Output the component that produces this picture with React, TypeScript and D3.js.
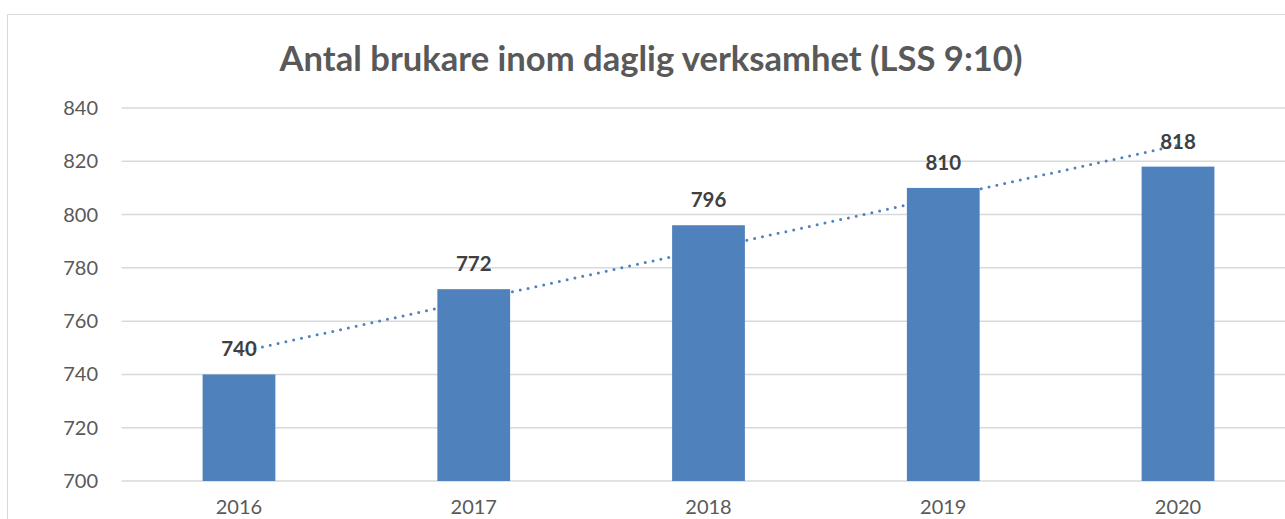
import React, { useRef, useEffect } from 'react';
import * as d3 from 'd3';

const YEARS: string[] = ['2016', '2017', '2018', '2019', '2020'];
const USERS: number[] = [740, 772, 796, 810, 818];
const Y_TICKS: number[] = [700, 720, 740, 760, 780, 800, 820, 840];

const TITLE = 'Antal brukare inom daglig verksamhet (LSS 9:10)';
const FONT = 'Lato, "Open Sans", sans-serif';
const BAR = '#4f81bd';
const TEXT = '#595959';

const App: React.FC = () => {
  const svgRef = useRef<SVGSVGElement>(null);

  useEffect(() => {
    if (!svgRef.current) return;
    const W = 1285;
    const H = 519;
    const left = 121.6;
    const right = 1295.4;
    const top = 108;
    const bottom = 481;

    const svg = d3.select(svgRef.current);
    svg.selectAll('*').remove();

    svg.append('rect').attr('width', W).attr('height', H).attr('fill', '#fff');
    // chart area border
    svg.append('rect')
      .attr('x', 7.5).attr('y', 14.5)
      .attr('width', 1300).attr('height', 540)
      .attr('fill', 'none').attr('stroke', '#d9d9d9').attr('stroke-width', 1);

    const x = d3.scaleBand().domain(YEARS).range([left, right]).paddingInner(0.69).paddingOuter(0.345);
    const y = d3.scaleLinear().domain([700, 840]).range([bottom, top]);

    // Title
    svg.append('text')
      .attr('x', 651).attr('y', 71)
      .attr('text-anchor', 'middle')
      .attr('fill', TEXT)
      .attr('font-family', FONT)
      .attr('font-weight', 'bold')
      .attr('font-size', '34.6px')
      .text(TITLE);

    // Grid lines
    svg.append('g')
      .selectAll('line')
      .data(Y_TICKS)
      .join('line')
      .attr('x1', left)
      .attr('x2', W)
      .attr('y1', d => y(d))
      .attr('y2', d => y(d))
      .attr('stroke', '#d9d9d9')
      .attr('stroke-width', 1.5);

    // Y labels
    svg.append('g')
      .selectAll('text')
      .data(Y_TICKS)
      .join('text')
      .attr('x', 98)
      .attr('y', d => y(d))
      .attr('dy', '0.35em')
      .attr('text-anchor', 'end')
      .attr('fill', TEXT)
      .attr('font-family', FONT)
      .attr('font-size', '20px')
      .text(d => d);

    // Linear trendline (least squares on the data)
    const idx = USERS.map((_, i) => i);
    const mx = d3.mean(idx)!;
    const my = d3.mean(USERS)!;
    const slope = d3.sum(idx, i => (i - mx) * (USERS[i] - my)) / d3.sum(idx, i => (i - mx) ** 2);
    const icpt = my - slope * mx;
    const cx = (i: number) => x(YEARS[i])! + x.bandwidth() / 2;
    const trend = d3.line<number>()
      .x(i => cx(i))
      .y(i => y(icpt + slope * i));
    svg.append('path')
      .attr('d', trend([0, idx.length - 1]))
      .attr('fill', 'none')
      .attr('stroke', BAR)
      .attr('stroke-width', 3)
      .attr('stroke-linecap', 'round')
      .attr('stroke-dasharray', '0 8');

    // Bars
    svg.append('g')
      .selectAll('rect')
      .data(USERS)
      .join('rect')
      .attr('x', (_, i) => x(YEARS[i])!)
      .attr('y', d => y(d))
      .attr('width', x.bandwidth())
      .attr('height', d => bottom - y(d))
      .attr('fill', BAR);

    // Value labels
    svg.append('g')
      .selectAll('text')
      .data(USERS)
      .join('text')
      .attr('x', (_, i) => cx(i))
      .attr('y', d => y(d) - 18)
      .attr('text-anchor', 'middle')
      .attr('fill', '#404040')
      .attr('font-family', FONT)
      .attr('font-weight', 'bold')
      .attr('font-size', '20.5px')
      .text(d => d);

    // X labels
    svg.append('g')
      .selectAll('text')
      .data(YEARS)
      .join('text')
      .attr('x', d => x(d)! + x.bandwidth() / 2)
      .attr('y', 514)
      .attr('text-anchor', 'middle')
      .attr('fill', TEXT)
      .attr('font-family', FONT)
      .attr('font-size', '20px')
      .text(d => d);
  }, []);

  return (
    <svg
      ref={svgRef}
      width={1285}
      height={519}
      style={{ position: 'absolute', left: 0, top: 0, display: 'block' }}
    />
  );
};

export default App;
